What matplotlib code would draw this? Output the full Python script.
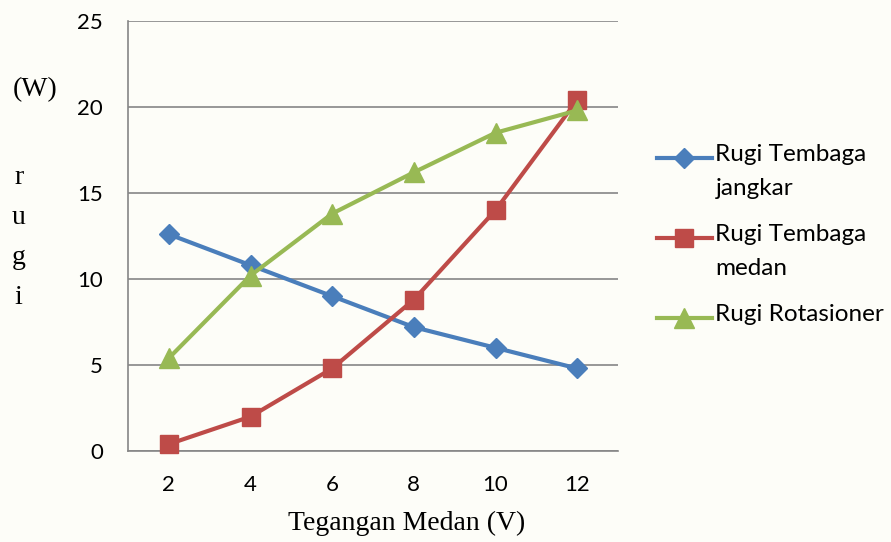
import matplotlib.pyplot as plt
from matplotlib.lines import Line2D

# tegangan medan (V) and losses (W)
tegangan = [2, 4, 6, 8, 10, 12]
rugi_jangkar = [12.6, 10.8, 9.0, 7.2, 6.0, 4.8]
rugi_medan = [0.4, 2.0, 4.8, 8.8, 14.0, 20.4]
rugi_rotasi = [5.4, 10.2, 13.8, 16.2, 18.5, 19.8]

series = [
    ("Rugi Tembaga\njangkar", rugi_jangkar, "#4a7ebb", "D", 10.5),
    ("Rugi Tembaga\nmedan", rugi_medan, "#be4b48", "s", 13.5),
    ("Rugi Rotasioner", rugi_rotasi, "#98b954", "^", 14),
]

bg = "#fdfdf8"
grid_c = "#868686"

fig = plt.figure(figsize=(8.91, 5.42), dpi=100, facecolor=bg)
ax = fig.add_axes([0.1437, 0.1679, 0.5499, 0.7934])
ax.set_facecolor(bg)

x = [i + 0.5 for i in range(len(tegangan))]
for name, vals, col, mk, ms in series:
    ax.plot(x, vals, color=col, lw=3, marker=mk, ms=ms, mec=col, mfc=col,
            clip_on=False, zorder=3)

ax.set_xlim(0, 6)
ax.set_ylim(0, 25)
ax.set_yticks(range(0, 26, 5))
ax.set_xticks(x)
ax.set_xticklabels([str(t) for t in tegangan])
ax.tick_params(length=0, labelsize=16, colors="black")
ax.tick_params(axis="y", pad=18)
ax.tick_params(axis="x", pad=17)
for lab in ax.get_xticklabels() + ax.get_yticklabels():
    lab.set_family("Lato")

ax.grid(axis="y", color=grid_c, lw=1.2)
ax.set_axisbelow(True)
for s in ["top", "right"]:
    ax.spines[s].set_visible(False)
for s in ["left", "bottom"]:
    ax.spines[s].set_color(grid_c)
    ax.spines[s].set_linewidth(1.2)

# axis titles
fig.text(0.456, 0.035, "Tegangan Medan (V)", family="Liberation Serif",
         fontsize=20, ha="center", va="center")
fig.text(0.039, 0.834, "(W)", family="Liberation Serif", fontsize=20,
         ha="center", va="center")
for ch, yp in zip("rugi", [177, 217, 258, 298]):
    fig.text(0.021, 1 - yp / 542, ch, family="Liberation Serif", fontsize=20,
             ha="center", va="center")

# legend on the right
for (name, vals, col, mk, ms), yp in zip(series, [158, 238, 318]):
    yf = 1 - yp / 542
    fig.add_artist(Line2D([0.737, 0.799], [yf, yf], color=col, lw=3,
                          transform=fig.transFigure))
    fig.add_artist(Line2D([0.768], [yf], color=col, marker=mk, ms=ms,
                          mec=col, mfc=col, transform=fig.transFigure))
    fig.text(0.803, yf + 0.025, name, family="Lato", fontsize=17.5,
             ha="left", va="top", linespacing=1.75)

fig.savefig("out.png", dpi=100, facecolor=bg)
